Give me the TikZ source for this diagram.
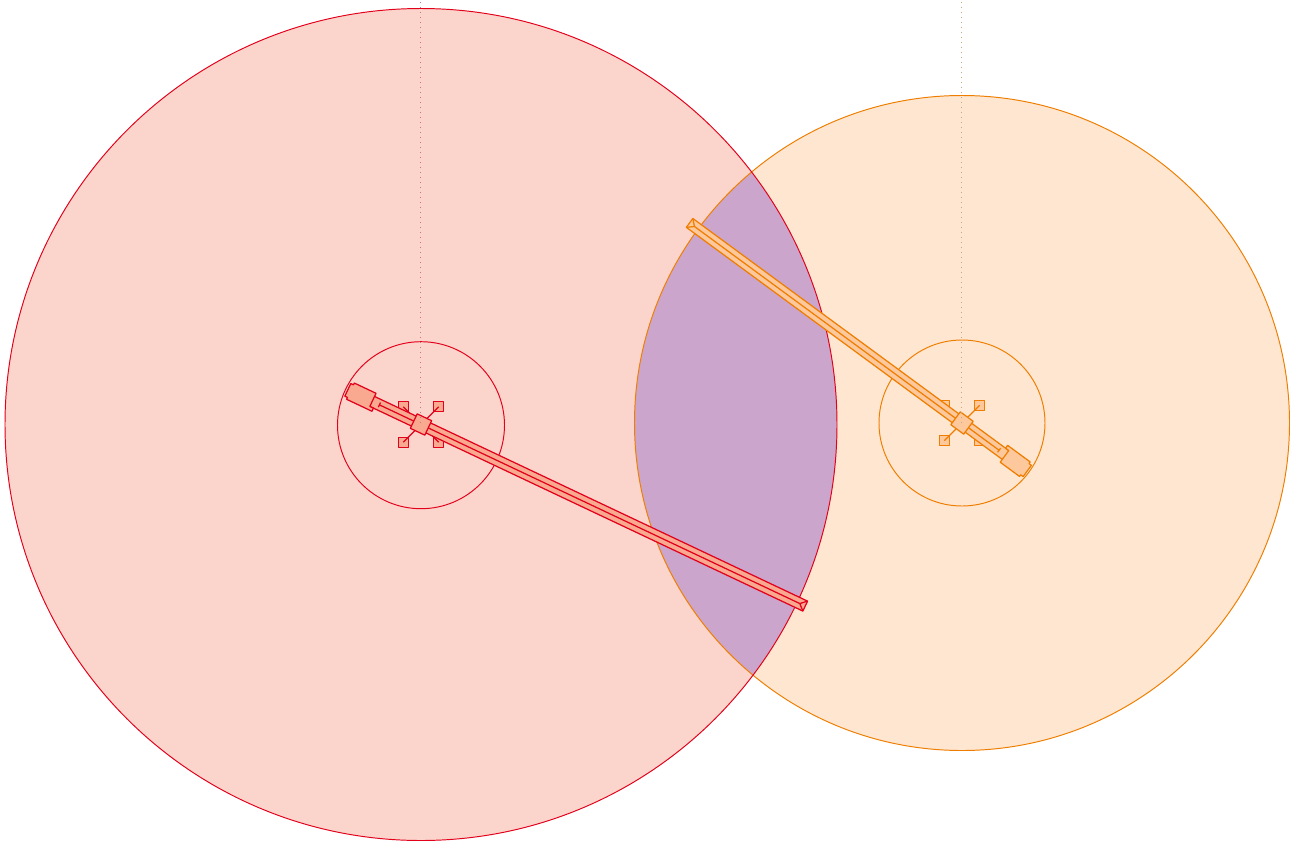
\documentclass[tikz,border=0pt]{standalone}
\usepackage{tikz}

\definecolor{redline}{HTML}{E2001A}
\definecolor{redfill}{HTML}{FBD5CC}
\definecolor{redpart}{HTML}{F9A98F}
\definecolor{orangeline}{HTML}{EF7D00}
\definecolor{orangefill}{HTML}{FEE6D0}
\definecolor{orangepart}{HTML}{FDC89B}
\definecolor{lensfill}{HTML}{CBA5CB}

\tikzset{
    part/.style={line width=0.7pt, line join=round},
    ring/.style={line width=0.55pt},
    axisline/.style={line width=0.6pt, dash pattern=on 0.25mm off 0.75mm},
}

% #1 centre, #2 angle, #3 rod length, #4 line colour, #5 fill colour
\newcommand{\drawarm}[5]{
    \begin{scope}[shift={#1}, part, draw=#4, fill=#5]
        \foreach \sx in {-1,1} {
            \foreach \sy in {-1,1} {
                \filldraw (17.7*\sx-5,17.7*\sy-5) rectangle (17.7*\sx+5,17.7*\sy+5);
                \draw[#4] (0,0) -- (17.7*\sx,17.7*\sy);
            }
        }
        \begin{scope}[rotate=#2]
            \filldraw (-56,-5.5) -- (#3,-5.5) -- (#3,5.5) -- (-56,5.5) -- cycle;
            \draw (-46,0) -- (#3-6,0);
            \draw (-46,-2.5) -- (-46,2.5);
            \draw (#3-6,0) -- (#3,-5.5) (#3-6,0) -- (#3,5.5);
            \filldraw (-54,-7) -- (-54,-9) -- (-78,-9) -- (-78,-7) -- (-81,-7) -- (-81,7)
                -- (-78,7) -- (-78,9) -- (-50,9) -- (-50,5.5) -- (-54,5.5) -- cycle;
            \filldraw (-8,-8) rectangle (8,8);
        \end{scope}
    \end{scope}
}

\begin{document}
\begin{tikzpicture}[x=0.2mm, y=-0.2mm]
    \useasboundingbox (0,0) rectangle (1297,842);

    \fill[redfill] (421,424.5) circle (416);
    \fill[orangefill] (962,423) circle (327.5);
    \begin{scope}
        \clip (421,424.5) circle (416);
        \fill[lensfill] (962,423) circle (327.5);
    \end{scope}

    \draw[orangeline, ring] (962,423) circle (327.5);
    \draw[redline, ring] (421,424.5) circle (416);
    \draw[redline, ring] (421,425.2) circle (83.5);
    \draw[orangeline, ring] (962,423) circle (83);

    \drawarm{(421,424.5)}{-25.3}{425}{redline}{redpart}
    \drawarm{(962,423)}{143.7}{338}{orangeline}{orangepart}

    \draw[axisline, redline!55!gray!70] (420.7,2) -- (420.7,424.5);
    \draw[axisline, orangeline!40!gray!70] (961.7,2) -- (961.7,423);
\end{tikzpicture}
\end{document}
